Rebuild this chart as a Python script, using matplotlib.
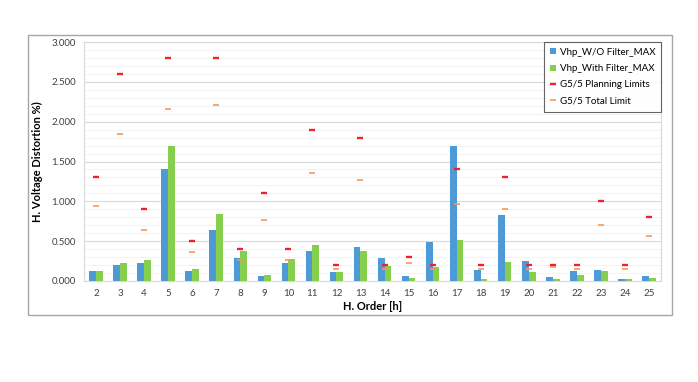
import matplotlib.pyplot as plt
import numpy as np
from matplotlib.patches import Rectangle
from matplotlib.ticker import MultipleLocator, FormatStrFormatter

plt.rcParams['font.family'] = ['Lato', 'DejaVu Sans']

orders = [str(h) for h in range(2, 26)]
wo_filter = [0.12, 0.20, 0.22, 1.41, 0.12, 0.64, 0.29, 0.06, 0.23, 0.38, 0.11, 0.43,
             0.29, 0.06, 0.49, 1.69, 0.14, 0.83, 0.25, 0.05, 0.12, 0.14, 0.03, 0.06]
with_filter = [0.13, 0.22, 0.26, 1.70, 0.15, 0.84, 0.38, 0.08, 0.27, 0.45, 0.11, 0.38,
               0.19, 0.04, 0.18, 0.52, 0.03, 0.24, 0.11, 0.03, 0.08, 0.12, 0.03, 0.04]
planning = [1.3, 2.6, 0.9, 2.8, 0.5, 2.8, 0.4, 1.1, 0.4, 1.9, 0.2, 1.8,
            0.2, 0.3, 0.2, 1.4, 0.2, 1.3, 0.2, 0.2, 0.2, 1.0, 0.2, 0.8]
total = [0.94, 1.85, 0.64, 2.16, 0.36, 2.21, 0.26, 0.77, 0.26, 1.36, 0.15, 1.27,
         0.15, 0.23, 0.15, 0.97, 0.15, 0.90, 0.15, 0.17, 0.15, 0.70, 0.15, 0.56]

fig = plt.figure(figsize=(6.98, 3.82), dpi=100)
ax = fig.add_axes([84/698, 1-281/382, (661-84)/698, (281-42)/382])

# chart border like excel
fig.patches.append(Rectangle((28/698, 1-315/382), (672-28)/698, (315-35)/382,
                             transform=fig.transFigure, fill=False,
                             edgecolor='#A6A6A6', linewidth=1.0))

x = np.arange(len(orders))
w = 0.28
b1 = ax.bar(x - w/2, wo_filter, w, color='#4E9AD6', label='Vhp_W/O Filter_MAX', zorder=3)
b2 = ax.bar(x + w/2, with_filter, w, color='#86CF4E', label='Vhp_With Filter_MAX', zorder=3)
l1, = ax.plot(x, planning, linestyle='none', marker='_', markersize=5, markeredgewidth=1.7,
              color='#F0212B', label='G5/5 Planning Limits', zorder=4)
l2, = ax.plot(x, total, linestyle='none', marker='_', markersize=5, markeredgewidth=1.2,
              color='#F7965A', label='G5/5 Total Limit', zorder=4)

ax.set_xlim(-0.5, len(orders) - 0.5)
ax.set_ylim(0, 3.0)
ax.set_xticks(x)
ax.set_xticklabels(orders)
ax.yaxis.set_major_locator(MultipleLocator(0.5))
ax.yaxis.set_minor_locator(MultipleLocator(0.1))
ax.yaxis.set_major_formatter(FormatStrFormatter('%.3f'))
ax.grid(which='major', axis='y', color='#D9D9D9', linewidth=0.8, zorder=0)
ax.grid(which='minor', axis='y', color='#F0F0F0', linewidth=0.6, zorder=0)
ax.tick_params(axis='both', which='both', length=0, labelsize=7, colors='#404040', pad=6)
for s in ax.spines.values():
    s.set_color('#D9D9D9')
    s.set_linewidth(0.8)

ax.set_xlabel('H. Order [h]', fontsize=8, fontweight='bold', labelpad=2)
ax.set_ylabel('H. Voltage Distortion %)', fontsize=8, fontweight='bold', labelpad=6)

leg = ax.legend([b1, b2, l1, l2], [b1.get_label(), b2.get_label(), l1.get_label(), l2.get_label()],
                loc='upper right', bbox_to_anchor=(1.0, 1.0), fontsize=7, frameon=True,
                fancybox=False, edgecolor='#404040', handlelength=0.6, handleheight=0.6,
                handletextpad=0.4, labelspacing=0.75, borderpad=0.6, borderaxespad=0.0)
leg.get_frame().set_linewidth(0.8)

fig.savefig('out.png', dpi=100, facecolor='white')
